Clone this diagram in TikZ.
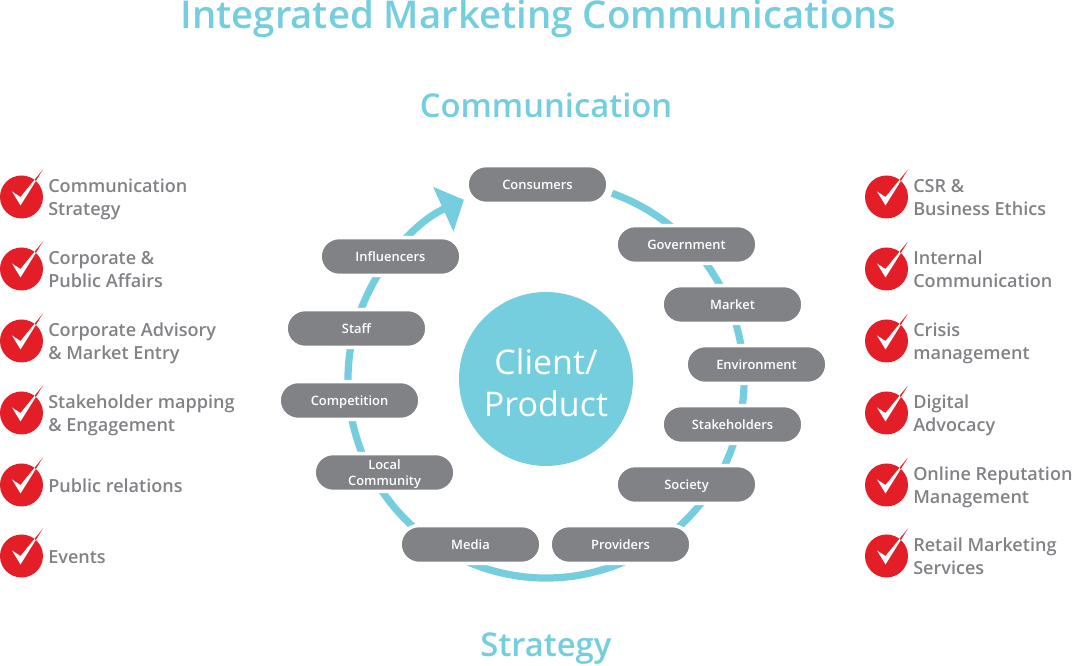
\documentclass[tikz,border=0pt]{standalone}
\usepackage{fontspec}
\setmainfont{Open Sans}
\newfontface\semifont{Open Sans Semibold}
\usepackage{xcolor}
\usetikzlibrary{shapes.misc, arrows.meta, calc}
\definecolor{ringcyan}{HTML}{74CEDE}
\definecolor{pillgray}{HTML}{808285}
\definecolor{tickred}{HTML}{E31E26}
\tikzset{
    pill/.style={rounded rectangle, fill=pillgray, draw=white, line width=2.6pt,
        minimum width=105.6pt, minimum height=28.4pt, inner sep=0pt,
        text=white, font=\fontsize{9.7pt}{12pt}\semifont, align=center,
        text height=10pt, text depth=2pt},
    item/.style={anchor=west, align=left, inner sep=0pt, text=pillgray,
        font=\fontsize{13.55pt}{17pt}\semifont},
    heading/.style={text=ringcyan, inner sep=0pt},
    ringline/.style={ringcyan, line width=5.4pt},
    checkicon/.pic={
        \fill[tickred] (0,0) circle (21.5);
        \fill[tickred] (-9.5,5.5) -- (-1,-8.5) -- (21.5,27.5) -- (-1,0) -- cycle;
        \begin{scope}
            \clip (0,0) circle (21.5);
            \fill[white] (-9.5,5.5) -- (-1,-8.5) -- (21.5,27.5) -- (-1,0) -- cycle;
        \end{scope}
    }
}
\begin{document}
\begin{tikzpicture}[x=0.75pt, y=0.75pt]
    \useasboundingbox (0,0) rectangle (1072,666);

    % Ring centre
    \coordinate (O) at (546,286);
    \def\ringradius{198}

    % Headings
    \node[heading, font=\fontsize{28.75pt}{36pt}\semifont] (title) at (538.5,647) {Integrated Marketing Communications};
    \node[heading, font=\fontsize{24.6pt}{30pt}\semifont] (top) at (546,561) {Communication};
    \node[heading, font=\fontsize{24.6pt}{30pt}\semifont] (bottom) at (546,17) {Strategy};

    % Ring with arrow, from Consumers round to Consumers
    \coordinate (ringstart) at ($(O)+(70.5:\ringradius)$);
    \draw[ringline, -{Triangle[length=17pt, width=36pt]}] (ringstart) arc (70.5:-245.5:\ringradius);

    % Centre circle
    \node[circle, fill=ringcyan, minimum size=130.5pt, inner sep=0pt] (client) at (546,287) {};
    \node[text=white, align=center, inner sep=0pt,
        font=\fontsize{25.5pt}{31.5pt}\selectfont] (clientlabel) at (546,283.5) {Client/\\Product};

    % Pills
    \node[pill] (consumers) at (537.5,481.5) {Consumers};
    \node[pill] (government) at (686.5,421.5) {Government};
    \node[pill] (market) at (732.5,361.5) {Market};
    \node[pill] (environment) at (756.5,301.5) {Environment};
    \node[pill] (stakeholders) at (732.5,241.5) {Stakeholders};
    \node[pill] (society) at (686.5,181.5) {Society};
    \node[pill] (providers) at (620.5,121.5) {Providers};
    \node[pill] (media) at (470.5,121.5) {Media};
    \node[pill, text height=21pt] (community) at (384.5,193.5) {Local\\Community};
    \node[pill] (competition) at (349.5,265.5) {Competition};
    \node[pill] (staff) at (356.5,337.5) {Staff};
    \node[pill] (influencers) at (390.5,409.5) {Influencers};

    % Left list
    \foreach \y/\txt in {469/{\strut Communication\\\strut Strategy}, 397/{\strut Corporate \&\\\strut Public Affairs},
        325/{\strut Corporate Advisory\\\strut \& Market Entry}, 253/{\strut Stakeholder mapping\\\strut \& Engagement},
        181/{\strut Public relations}, 110/{\strut Events}} {
        \pic at (21.5,\y) {checkicon};
        \node[item] at (48,\y-2.8) {\txt};
    }

    % Right list
    \foreach \y/\txt in {469/{\strut CSR \&\\\strut Business Ethics}, 397/{\strut Internal\\\strut Communication},
        325/{\strut Crisis\\\strut management}, 253/{\strut Digital\\\strut Advocacy},
        181/{\strut Online Reputation\\\strut Management}, 110/{\strut Retail Marketing\\\strut Services}} {
        \pic at (886.5,\y) {checkicon};
        \node[item] at (913,\y-2.8) {\txt};
    }
\end{tikzpicture}
\end{document}
